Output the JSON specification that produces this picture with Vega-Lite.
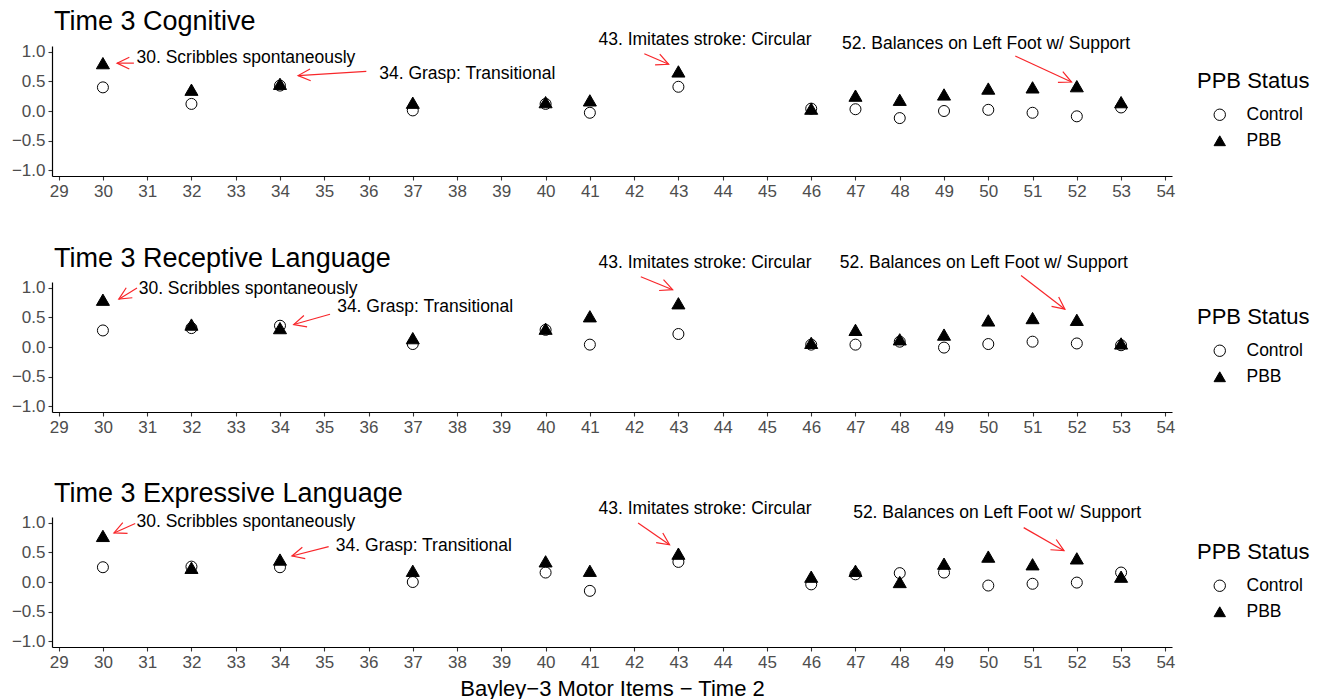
{
  "$schema": "https://vega.github.io/schema/vega-lite/v6.json",
  "padding": {"left": 11, "top": 8, "right": 5, "bottom": 4},
  "background": "white",
  "datasets": {
    "points": [
      {"p": "Cognitive", "item": 30, "status": "Control", "value": 0.40},
      {"p": "Cognitive", "item": 30, "status": "PBB", "value": 0.81},
      {"p": "Cognitive", "item": 32, "status": "Control", "value": 0.12},
      {"p": "Cognitive", "item": 32, "status": "PBB", "value": 0.36},
      {"p": "Cognitive", "item": 34, "status": "Control", "value": 0.43},
      {"p": "Cognitive", "item": 34, "status": "PBB", "value": 0.46},
      {"p": "Cognitive", "item": 37, "status": "Control", "value": 0.01},
      {"p": "Cognitive", "item": 37, "status": "PBB", "value": 0.14},
      {"p": "Cognitive", "item": 40, "status": "Control", "value": 0.12},
      {"p": "Cognitive", "item": 40, "status": "PBB", "value": 0.15},
      {"p": "Cognitive", "item": 41, "status": "Control", "value": -0.03},
      {"p": "Cognitive", "item": 41, "status": "PBB", "value": 0.18},
      {"p": "Cognitive", "item": 43, "status": "Control", "value": 0.41},
      {"p": "Cognitive", "item": 43, "status": "PBB", "value": 0.67},
      {"p": "Cognitive", "item": 46, "status": "Control", "value": 0.04},
      {"p": "Cognitive", "item": 46, "status": "PBB", "value": 0.04},
      {"p": "Cognitive", "item": 47, "status": "Control", "value": 0.03},
      {"p": "Cognitive", "item": 47, "status": "PBB", "value": 0.26},
      {"p": "Cognitive", "item": 48, "status": "Control", "value": -0.12},
      {"p": "Cognitive", "item": 48, "status": "PBB", "value": 0.19},
      {"p": "Cognitive", "item": 49, "status": "Control", "value": 0.00},
      {"p": "Cognitive", "item": 49, "status": "PBB", "value": 0.28},
      {"p": "Cognitive", "item": 50, "status": "Control", "value": 0.02},
      {"p": "Cognitive", "item": 50, "status": "PBB", "value": 0.38},
      {"p": "Cognitive", "item": 51, "status": "Control", "value": -0.03},
      {"p": "Cognitive", "item": 51, "status": "PBB", "value": 0.40},
      {"p": "Cognitive", "item": 52, "status": "Control", "value": -0.09},
      {"p": "Cognitive", "item": 52, "status": "PBB", "value": 0.42},
      {"p": "Cognitive", "item": 53, "status": "Control", "value": 0.06},
      {"p": "Cognitive", "item": 53, "status": "PBB", "value": 0.15},
      {"p": "Receptive", "item": 30, "status": "Control", "value": 0.28},
      {"p": "Receptive", "item": 30, "status": "PBB", "value": 0.80},
      {"p": "Receptive", "item": 32, "status": "Control", "value": 0.32},
      {"p": "Receptive", "item": 32, "status": "PBB", "value": 0.38},
      {"p": "Receptive", "item": 34, "status": "Control", "value": 0.36},
      {"p": "Receptive", "item": 34, "status": "PBB", "value": 0.32},
      {"p": "Receptive", "item": 37, "status": "Control", "value": 0.05},
      {"p": "Receptive", "item": 37, "status": "PBB", "value": 0.15},
      {"p": "Receptive", "item": 40, "status": "Control", "value": 0.29},
      {"p": "Receptive", "item": 40, "status": "PBB", "value": 0.31},
      {"p": "Receptive", "item": 41, "status": "Control", "value": 0.04},
      {"p": "Receptive", "item": 41, "status": "PBB", "value": 0.52},
      {"p": "Receptive", "item": 43, "status": "Control", "value": 0.22},
      {"p": "Receptive", "item": 43, "status": "PBB", "value": 0.74},
      {"p": "Receptive", "item": 46, "status": "Control", "value": 0.04},
      {"p": "Receptive", "item": 46, "status": "PBB", "value": 0.07},
      {"p": "Receptive", "item": 47, "status": "Control", "value": 0.04},
      {"p": "Receptive", "item": 47, "status": "PBB", "value": 0.29},
      {"p": "Receptive", "item": 48, "status": "Control", "value": 0.09},
      {"p": "Receptive", "item": 48, "status": "PBB", "value": 0.13},
      {"p": "Receptive", "item": 49, "status": "Control", "value": -0.01},
      {"p": "Receptive", "item": 49, "status": "PBB", "value": 0.21},
      {"p": "Receptive", "item": 50, "status": "Control", "value": 0.05},
      {"p": "Receptive", "item": 50, "status": "PBB", "value": 0.45},
      {"p": "Receptive", "item": 51, "status": "Control", "value": 0.09},
      {"p": "Receptive", "item": 51, "status": "PBB", "value": 0.49},
      {"p": "Receptive", "item": 52, "status": "Control", "value": 0.06},
      {"p": "Receptive", "item": 52, "status": "PBB", "value": 0.46},
      {"p": "Receptive", "item": 53, "status": "Control", "value": 0.03},
      {"p": "Receptive", "item": 53, "status": "PBB", "value": 0.06},
      {"p": "Expressive", "item": 30, "status": "Control", "value": 0.25},
      {"p": "Expressive", "item": 30, "status": "PBB", "value": 0.78},
      {"p": "Expressive", "item": 32, "status": "Control", "value": 0.26},
      {"p": "Expressive", "item": 32, "status": "PBB", "value": 0.24},
      {"p": "Expressive", "item": 34, "status": "Control", "value": 0.25},
      {"p": "Expressive", "item": 34, "status": "PBB", "value": 0.38},
      {"p": "Expressive", "item": 37, "status": "Control", "value": 0.00},
      {"p": "Expressive", "item": 37, "status": "PBB", "value": 0.19},
      {"p": "Expressive", "item": 40, "status": "Control", "value": 0.16},
      {"p": "Expressive", "item": 40, "status": "PBB", "value": 0.35},
      {"p": "Expressive", "item": 41, "status": "Control", "value": -0.15},
      {"p": "Expressive", "item": 41, "status": "PBB", "value": 0.19},
      {"p": "Expressive", "item": 43, "status": "Control", "value": 0.34},
      {"p": "Expressive", "item": 43, "status": "PBB", "value": 0.48},
      {"p": "Expressive", "item": 46, "status": "Control", "value": -0.04},
      {"p": "Expressive", "item": 46, "status": "PBB", "value": 0.09},
      {"p": "Expressive", "item": 47, "status": "Control", "value": 0.13},
      {"p": "Expressive", "item": 47, "status": "PBB", "value": 0.19},
      {"p": "Expressive", "item": 48, "status": "Control", "value": 0.15},
      {"p": "Expressive", "item": 48, "status": "PBB", "value": 0.00},
      {"p": "Expressive", "item": 49, "status": "Control", "value": 0.16},
      {"p": "Expressive", "item": 49, "status": "PBB", "value": 0.31},
      {"p": "Expressive", "item": 50, "status": "Control", "value": -0.06},
      {"p": "Expressive", "item": 50, "status": "PBB", "value": 0.43},
      {"p": "Expressive", "item": 51, "status": "Control", "value": -0.03},
      {"p": "Expressive", "item": 51, "status": "PBB", "value": 0.30},
      {"p": "Expressive", "item": 52, "status": "Control", "value": -0.01},
      {"p": "Expressive", "item": 52, "status": "PBB", "value": 0.40},
      {"p": "Expressive", "item": 53, "status": "Control", "value": 0.16},
      {"p": "Expressive", "item": 53, "status": "PBB", "value": 0.09}
    ],
    "labels": [
      {"p": "Cognitive", "label": "30. Scribbles spontaneously", "item": 33.23, "value": 0.90},
      {"p": "Cognitive", "label": "34. Grasp: Transitional", "item": 38.23, "value": 0.62},
      {"p": "Cognitive", "label": "43. Imitates stroke: Circular", "item": 43.6, "value": 1.20},
      {"p": "Cognitive", "label": "52. Balances on Left Foot w/ Support", "item": 49.95, "value": 1.14},
      {"p": "Receptive", "label": "30. Scribbles spontaneously", "item": 33.28, "value": 0.99},
      {"p": "Receptive", "label": "34. Grasp: Transitional", "item": 37.28, "value": 0.68},
      {"p": "Receptive", "label": "43. Imitates stroke: Circular", "item": 43.6, "value": 1.43},
      {"p": "Receptive", "label": "52. Balances on Left Foot w/ Support", "item": 49.9, "value": 1.43},
      {"p": "Expressive", "label": "30. Scribbles spontaneously", "item": 33.23, "value": 1.01},
      {"p": "Expressive", "label": "34. Grasp: Transitional", "item": 37.25, "value": 0.61},
      {"p": "Expressive", "label": "43. Imitates stroke: Circular", "item": 43.6, "value": 1.23},
      {"p": "Expressive", "label": "52. Balances on Left Foot w/ Support", "item": 50.2, "value": 1.16}
    ],
    "arrows": [
      {"p": "Cognitive", "item": 30.70, "value": 0.81, "item2": 30.32, "value2": 0.81, "angle": 180},
      {"p": "Cognitive", "item": 35.95, "value": 0.67, "item2": 34.41, "value2": 0.60, "angle": 176.6},
      {"p": "Cognitive", "item": 42.23, "value": 0.97, "item2": 42.78, "value2": 0.79, "angle": 23.4},
      {"p": "Cognitive", "item": 50.61, "value": 0.93, "item2": 51.88, "value2": 0.49, "angle": 24.6},
      {"p": "Receptive", "item": 30.77, "value": 1.00, "item2": 30.36, "value2": 0.81, "angle": 148.5},
      {"p": "Receptive", "item": 35.13, "value": 0.555, "item2": 34.31, "value2": 0.38, "angle": 164.3},
      {"p": "Receptive", "item": 42.15, "value": 1.19, "item2": 42.87, "value2": 0.97, "angle": 22.1},
      {"p": "Receptive", "item": 50.74, "value": 1.21, "item2": 51.73, "value2": 0.64, "angle": 37.2},
      {"p": "Expressive", "item": 30.73, "value": 0.99, "item2": 30.25, "value2": 0.83, "angle": 156.1},
      {"p": "Expressive", "item": 35.1, "value": 0.60, "item2": 34.27, "value2": 0.44, "angle": 165.6},
      {"p": "Expressive", "item": 42.09, "value": 1.00, "item2": 42.8, "value2": 0.63, "angle": 34.5},
      {"p": "Expressive", "item": 50.8, "value": 0.92, "item2": 51.71, "value2": 0.53, "angle": 29.6}
    ]
  },
  "vconcat": [
    {
      "title": {"text": "Time 3 Cognitive", "offset": -5, "dx": 2},
      "width": 1120, "height": 130,
      "layer": [
        {
          "data": {"name": "points"},
          "transform": [{"filter": "datum.p === 'Cognitive' && datum.status === 'Control'"}],
          "mark": {"type": "point", "strokeWidth": 1, "size": 121, "opacity": 1, "filled": false},
          "encoding": {
            "x": {"field": "item", "type": "quantitative", "title": null, "scale": {"domain": [28.85, 54.15], "nice": false, "zero": false}, "axis": {"values": [29,30,31,32,33,34,35,36,37,38,39,40,41,42,43,44,45,46,47,48,49,50,51,52,53,54], "labelOverlap": false}},
            "y": {"field": "value", "type": "quantitative", "title": null, "scale": {"domain": [-1.1, 1.1], "nice": false, "zero": false}, "axis": {"values": [-1, -0.5, 0, 0.5, 1], "format": ".1f", "labelOverlap": false, "tickCount": 5}},
            "shape": {"field": "status", "type": "nominal", "scale": {"domain": ["Control", "PBB"], "range": ["circle", "triangle-up"]}, "legend": {"title": "PPB Status", "orient": "none", "legendX": 1145, "legendY": 25}},
            "fill": {"field": "status", "type": "nominal", "scale": {"domain": ["Control", "PBB"], "range": ["transparent", "black"]}, "legend": {"title": "PPB Status", "orient": "none", "legendX": 1145, "legendY": 25}},
            "stroke": {"field": "status", "type": "nominal", "scale": {"domain": ["Control", "PBB"], "range": ["black", "black"]}, "legend": {"title": "PPB Status", "orient": "none", "legendX": 1145, "legendY": 25}}
          }
        },
        {
          "data": {"name": "points"},
          "transform": [{"filter": "datum.p === 'Cognitive' && datum.status === 'PBB'"}],
          "mark": {"type": "point", "strokeWidth": 1, "size": 170, "opacity": 1, "filled": false},
          "encoding": {
            "x": {"field": "item", "type": "quantitative", "title": null},
            "y": {"field": "value", "type": "quantitative", "title": null},
            "shape": {"field": "status", "type": "nominal", "scale": {"domain": ["Control", "PBB"], "range": ["circle", "triangle-up"]}, "legend": {"title": "PPB Status", "orient": "none", "legendX": 1145, "legendY": 25}},
            "fill": {"field": "status", "type": "nominal", "scale": {"domain": ["Control", "PBB"], "range": ["transparent", "black"]}, "legend": {"title": "PPB Status", "orient": "none", "legendX": 1145, "legendY": 25}},
            "stroke": {"field": "status", "type": "nominal", "scale": {"domain": ["Control", "PBB"], "range": ["black", "black"]}, "legend": {"title": "PPB Status", "orient": "none", "legendX": 1145, "legendY": 25}}
          }
        },
        {
          "data": {"name": "arrows"},
          "transform": [{"filter": "datum.p === 'Cognitive'"}],
          "mark": {"type": "rule", "color": "#F8262A", "strokeWidth": 1.2},
          "encoding": {
            "x": {"field": "item", "type": "quantitative", "title": null},
            "y": {"field": "value", "type": "quantitative", "title": null},
            "x2": {"field": "item2"},
            "y2": {"field": "value2"}
          }
        },
        {
          "data": {"name": "arrows"},
          "transform": [{"filter": "datum.p === 'Cognitive'"}],
          "mark": {"type": "point", "shape": "M -1 -0.48 L 0 0 L -1 0.48", "filled": false, "stroke": "#F8262A", "strokeWidth": 1.2, "size": 600, "opacity": 1},
          "encoding": {
            "x": {"field": "item2", "type": "quantitative", "title": null},
            "y": {"field": "value2", "type": "quantitative", "title": null},
            "angle": {"field": "angle", "type": "quantitative", "scale": null}
          }
        },
        {
          "data": {"name": "labels"},
          "transform": [{"filter": "datum.p === 'Cognitive'"}],
          "mark": {"type": "text", "fontSize": 17.5, "color": "black", "baseline": "middle", "align": "center"},
          "encoding": {
            "x": {"field": "item", "type": "quantitative", "title": null},
            "y": {"field": "value", "type": "quantitative", "title": null},
            "text": {"field": "label"}
          }
        }
      ]
    },
    {
      "title": {"text": "Time 3 Receptive Language", "offset": -19, "dx": 2},
      "width": 1120, "height": 130,
      "layer": [
        {
          "data": {"name": "points"},
          "transform": [{"filter": "datum.p === 'Receptive' && datum.status === 'Control'"}],
          "mark": {"type": "point", "strokeWidth": 1, "size": 121, "opacity": 1, "filled": false},
          "encoding": {
            "x": {"field": "item", "type": "quantitative", "title": null, "scale": {"domain": [28.85, 54.15], "nice": false, "zero": false}, "axis": {"values": [29,30,31,32,33,34,35,36,37,38,39,40,41,42,43,44,45,46,47,48,49,50,51,52,53,54], "labelOverlap": false}},
            "y": {"field": "value", "type": "quantitative", "title": null, "scale": {"domain": [-1.1, 1.1], "nice": false, "zero": false}, "axis": {"values": [-1, -0.5, 0, 0.5, 1], "format": ".1f", "labelOverlap": false, "tickCount": 5}},
            "shape": {"field": "status", "type": "nominal", "scale": {"domain": ["Control", "PBB"], "range": ["circle", "triangle-up"]}, "legend": {"title": "PPB Status", "orient": "none", "legendX": 1145, "legendY": 25}},
            "fill": {"field": "status", "type": "nominal", "scale": {"domain": ["Control", "PBB"], "range": ["transparent", "black"]}, "legend": {"title": "PPB Status", "orient": "none", "legendX": 1145, "legendY": 25}},
            "stroke": {"field": "status", "type": "nominal", "scale": {"domain": ["Control", "PBB"], "range": ["black", "black"]}, "legend": {"title": "PPB Status", "orient": "none", "legendX": 1145, "legendY": 25}}
          }
        },
        {
          "data": {"name": "points"},
          "transform": [{"filter": "datum.p === 'Receptive' && datum.status === 'PBB'"}],
          "mark": {"type": "point", "strokeWidth": 1, "size": 170, "opacity": 1, "filled": false},
          "encoding": {
            "x": {"field": "item", "type": "quantitative", "title": null},
            "y": {"field": "value", "type": "quantitative", "title": null},
            "shape": {"field": "status", "type": "nominal", "scale": {"domain": ["Control", "PBB"], "range": ["circle", "triangle-up"]}, "legend": {"title": "PPB Status", "orient": "none", "legendX": 1145, "legendY": 25}},
            "fill": {"field": "status", "type": "nominal", "scale": {"domain": ["Control", "PBB"], "range": ["transparent", "black"]}, "legend": {"title": "PPB Status", "orient": "none", "legendX": 1145, "legendY": 25}},
            "stroke": {"field": "status", "type": "nominal", "scale": {"domain": ["Control", "PBB"], "range": ["black", "black"]}, "legend": {"title": "PPB Status", "orient": "none", "legendX": 1145, "legendY": 25}}
          }
        },
        {
          "data": {"name": "arrows"},
          "transform": [{"filter": "datum.p === 'Receptive'"}],
          "mark": {"type": "rule", "color": "#F8262A", "strokeWidth": 1.2},
          "encoding": {
            "x": {"field": "item", "type": "quantitative", "title": null},
            "y": {"field": "value", "type": "quantitative", "title": null},
            "x2": {"field": "item2"},
            "y2": {"field": "value2"}
          }
        },
        {
          "data": {"name": "arrows"},
          "transform": [{"filter": "datum.p === 'Receptive'"}],
          "mark": {"type": "point", "shape": "M -1 -0.48 L 0 0 L -1 0.48", "filled": false, "stroke": "#F8262A", "strokeWidth": 1.2, "size": 600, "opacity": 1},
          "encoding": {
            "x": {"field": "item2", "type": "quantitative", "title": null},
            "y": {"field": "value2", "type": "quantitative", "title": null},
            "angle": {"field": "angle", "type": "quantitative", "scale": null}
          }
        },
        {
          "data": {"name": "labels"},
          "transform": [{"filter": "datum.p === 'Receptive'"}],
          "mark": {"type": "text", "fontSize": 17.5, "color": "black", "baseline": "middle", "align": "center"},
          "encoding": {
            "x": {"field": "item", "type": "quantitative", "title": null},
            "y": {"field": "value", "type": "quantitative", "title": null},
            "text": {"field": "label"}
          }
        }
      ]
    },
    {
      "title": {"text": "Time 3 Expressive Language", "offset": -8, "dx": 2},
      "width": 1120, "height": 130,
      "layer": [
        {
          "data": {"name": "points"},
          "transform": [{"filter": "datum.p === 'Expressive' && datum.status === 'Control'"}],
          "mark": {"type": "point", "strokeWidth": 1, "size": 121, "opacity": 1, "filled": false},
          "encoding": {
            "x": {"field": "item", "type": "quantitative", "title": "Bayley\u22123 Motor Items \u2212 Time 2", "scale": {"domain": [28.85, 54.15], "nice": false, "zero": false}, "axis": {"values": [29,30,31,32,33,34,35,36,37,38,39,40,41,42,43,44,45,46,47,48,49,50,51,52,53,54], "titlePadding": 8, "labelOverlap": false}},
            "y": {"field": "value", "type": "quantitative", "title": null, "scale": {"domain": [-1.1, 1.1], "nice": false, "zero": false}, "axis": {"values": [-1, -0.5, 0, 0.5, 1], "format": ".1f", "labelOverlap": false, "tickCount": 5}},
            "shape": {"field": "status", "type": "nominal", "scale": {"domain": ["Control", "PBB"], "range": ["circle", "triangle-up"]}, "legend": {"title": "PPB Status", "orient": "none", "legendX": 1145, "legendY": 25}},
            "fill": {"field": "status", "type": "nominal", "scale": {"domain": ["Control", "PBB"], "range": ["transparent", "black"]}, "legend": {"title": "PPB Status", "orient": "none", "legendX": 1145, "legendY": 25}},
            "stroke": {"field": "status", "type": "nominal", "scale": {"domain": ["Control", "PBB"], "range": ["black", "black"]}, "legend": {"title": "PPB Status", "orient": "none", "legendX": 1145, "legendY": 25}}
          }
        },
        {
          "data": {"name": "points"},
          "transform": [{"filter": "datum.p === 'Expressive' && datum.status === 'PBB'"}],
          "mark": {"type": "point", "strokeWidth": 1, "size": 170, "opacity": 1, "filled": false},
          "encoding": {
            "x": {"field": "item", "type": "quantitative", "title": "Bayley\u22123 Motor Items \u2212 Time 2"},
            "y": {"field": "value", "type": "quantitative", "title": null},
            "shape": {"field": "status", "type": "nominal", "scale": {"domain": ["Control", "PBB"], "range": ["circle", "triangle-up"]}, "legend": {"title": "PPB Status", "orient": "none", "legendX": 1145, "legendY": 25}},
            "fill": {"field": "status", "type": "nominal", "scale": {"domain": ["Control", "PBB"], "range": ["transparent", "black"]}, "legend": {"title": "PPB Status", "orient": "none", "legendX": 1145, "legendY": 25}},
            "stroke": {"field": "status", "type": "nominal", "scale": {"domain": ["Control", "PBB"], "range": ["black", "black"]}, "legend": {"title": "PPB Status", "orient": "none", "legendX": 1145, "legendY": 25}}
          }
        },
        {
          "data": {"name": "arrows"},
          "transform": [{"filter": "datum.p === 'Expressive'"}],
          "mark": {"type": "rule", "color": "#F8262A", "strokeWidth": 1.2},
          "encoding": {
            "x": {"field": "item", "type": "quantitative", "title": "Bayley\u22123 Motor Items \u2212 Time 2"},
            "y": {"field": "value", "type": "quantitative", "title": null},
            "x2": {"field": "item2"},
            "y2": {"field": "value2"}
          }
        },
        {
          "data": {"name": "arrows"},
          "transform": [{"filter": "datum.p === 'Expressive'"}],
          "mark": {"type": "point", "shape": "M -1 -0.48 L 0 0 L -1 0.48", "filled": false, "stroke": "#F8262A", "strokeWidth": 1.2, "size": 600, "opacity": 1},
          "encoding": {
            "x": {"field": "item2", "type": "quantitative", "title": "Bayley\u22123 Motor Items \u2212 Time 2"},
            "y": {"field": "value2", "type": "quantitative", "title": null},
            "angle": {"field": "angle", "type": "quantitative", "scale": null}
          }
        },
        {
          "data": {"name": "labels"},
          "transform": [{"filter": "datum.p === 'Expressive'"}],
          "mark": {"type": "text", "fontSize": 17.5, "color": "black", "baseline": "middle", "align": "center"},
          "encoding": {
            "x": {"field": "item", "type": "quantitative", "title": "Bayley\u22123 Motor Items \u2212 Time 2"},
            "y": {"field": "value", "type": "quantitative", "title": null},
            "text": {"field": "label"}
          }
        }
      ]
    }
  ],
  "spacing": 45,
  "resolve": {
    "scale": {"shape": "independent", "fill": "independent", "stroke": "independent"},
    "legend": {"shape": "independent", "fill": "independent", "stroke": "independent"}
  },
  "config": {
    "font": "Liberation Sans",
    "view": {"stroke": null},
    "axis": {
      "grid": false,
      "domainColor": "black",
      "domainWidth": 1.2,
      "tickColor": "#333333",
      "tickSize": 4,
      "tickWidth": 1.1,
      "labelColor": "#4D4D4D",
      "labelFontSize": 17,
      "labelPadding": 3,
      "labelOverlap": false,
      "titleFontSize": 22,
      "titleFontWeight": "normal",
      "titleColor": "black"
    },
    "title": {"anchor": "start", "frame": "group", "fontSize": 27, "fontWeight": "normal", "color": "black"},
    "legend": {
      "titleFontSize": 22,
      "titleFontWeight": "normal",
      "titleColor": "black",
      "labelFontSize": 17.5,
      "labelColor": "black",
      "symbolSize": 130,
      "symbolStrokeColor": "black",
      "symbolStrokeWidth": 1,
      "titlePadding": 13,
      "rowPadding": 7,
      "labelOffset": 18,
      "symbolOffset": 14,
      "padding": 0
    }
  }
}
